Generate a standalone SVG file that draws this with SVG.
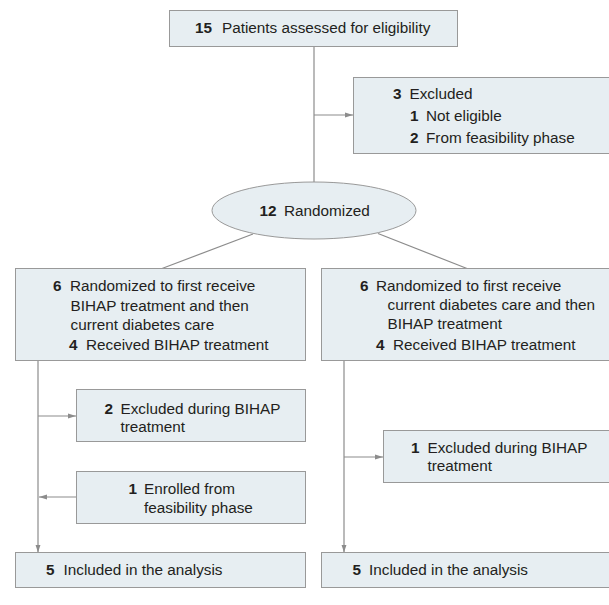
<svg xmlns="http://www.w3.org/2000/svg" width="609" height="605" viewBox="0 0 609 605">
<style>
.box{fill:#e7eef2;stroke:#999;stroke-width:1}
.ln{fill:none;stroke:#8c8c8c;stroke-width:1.2}
text{font-family:"Liberation Sans",Arial,sans-serif;font-size:15.3px;fill:#231f20}
.b{font-weight:bold}
</style>
<defs>
<marker id="ah" viewBox="0 0 8 6" refX="8" refY="3" markerWidth="8" markerHeight="6" markerUnits="userSpaceOnUse" orient="auto">
<path d="M0,0.4 L8,3 L0,5.6 z" fill="#8c8c8c"/>
</marker>
</defs>
<rect width="609" height="605" fill="#fff"/>
<g id="connectors">
<line class="ln" x1="314" y1="47" x2="314" y2="182"/>
<line class="ln" x1="314" y1="115" x2="353" y2="115" marker-end="url(#ah)"/>
<line class="ln" x1="253" y1="234" x2="162" y2="268.5"/>
<line class="ln" x1="378" y1="233.5" x2="467" y2="268.5"/>
<line class="ln" x1="38" y1="361" x2="38" y2="552.5" marker-end="url(#ah)"/>
<line class="ln" x1="38" y1="416" x2="76" y2="416" marker-end="url(#ah)"/>
<line class="ln" x1="76.5" y1="497" x2="39" y2="497" marker-end="url(#ah)"/>
<line class="ln" x1="344" y1="361" x2="344" y2="552.5" marker-end="url(#ah)"/>
<line class="ln" x1="344" y1="457" x2="383" y2="457" marker-end="url(#ah)"/>
</g>
<g id="assessed">
<rect class="box" x="169.5" y="10.5" width="288" height="36"/>
<text x="195" y="33"><tspan class="b">15</tspan><tspan x="222">Patients assessed for eligibility</tspan></text>
</g>
<g id="excluded">
<rect class="box" x="353.5" y="77.5" width="262" height="76"/>
<text x="393" y="99"><tspan class="b">3</tspan><tspan x="409.5">Excluded</tspan></text>
<text x="410" y="120.5"><tspan class="b">1</tspan><tspan x="426">Not eligible</tspan></text>
<text x="410" y="142.5"><tspan class="b">2</tspan><tspan x="426">From feasibility phase</tspan></text>
</g>
<g id="randomized">
<ellipse class="box" cx="314" cy="210.5" rx="102" ry="28.5"/>
<text x="259.5" y="216"><tspan class="b">12</tspan><tspan x="284">Randomized</tspan></text>
</g>
<g id="arm-left">
<rect class="box" x="15.5" y="268.5" width="290" height="92"/>
<text x="53" y="291"><tspan class="b">6</tspan><tspan x="70">Randomized to first receive</tspan></text>
<text x="70.5" y="310.5">BIHAP treatment and then</text>
<text x="70.5" y="329.5">current diabetes care</text>
<text x="69" y="350"><tspan class="b">4</tspan><tspan x="86">Received BIHAP treatment</tspan></text>
</g>
<g id="arm-right">
<rect class="box" x="321.5" y="268.5" width="292" height="92"/>
<text x="360" y="291"><tspan class="b">6</tspan><tspan x="376">Randomized to first receive</tspan></text>
<text x="387.5" y="310">current diabetes care and then</text>
<text x="387.5" y="328.5">BIHAP treatment</text>
<text x="376" y="350"><tspan class="b">4</tspan><tspan x="393">Received BIHAP treatment</tspan></text>
</g>
<g id="left-excluded">
<rect class="box" x="76.5" y="389.5" width="229" height="52"/>
<text x="104.5" y="413.5"><tspan class="b">2</tspan><tspan x="120.5">Excluded during BIHAP</tspan></text>
<text x="120.5" y="431.5">treatment</text>
</g>
<g id="left-enrolled">
<rect class="box" x="76.5" y="471.5" width="229" height="52"/>
<text x="128.5" y="493.5"><tspan class="b">1</tspan><tspan x="144">Enrolled from</tspan></text>
<text x="144" y="512.5">feasibility phase</text>
</g>
<g id="right-excluded">
<rect class="box" x="383.5" y="430.5" width="232" height="52"/>
<text x="411" y="453"><tspan class="b">1</tspan><tspan x="427.5">Excluded during BIHAP</tspan></text>
<text x="427.5" y="471">treatment</text>
</g>
<g id="left-analysis">
<rect class="box" x="15.5" y="552.5" width="290" height="35"/>
<text x="46" y="575"><tspan class="b">5</tspan><tspan x="63.5">Included in the analysis</tspan></text>
</g>
<g id="right-analysis">
<rect class="box" x="321.5" y="552.5" width="292" height="35"/>
<text x="352.5" y="575"><tspan class="b">5</tspan><tspan x="369">Included in the analysis</tspan></text>
</g>
</svg>
